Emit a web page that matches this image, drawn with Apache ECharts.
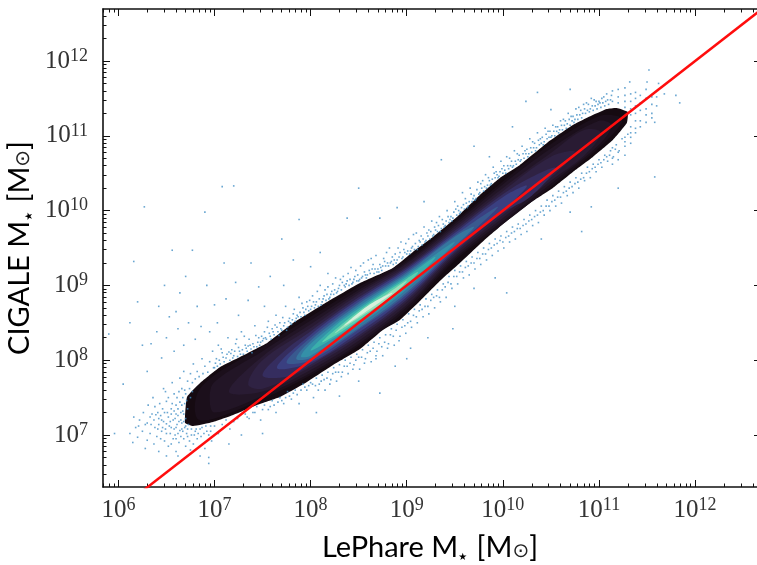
<!DOCTYPE html>
<html>
<head>
<meta charset="utf-8">
<style>html,body{margin:0;padding:0;background:#fff}#main{width:757px;height:565px}</style>
<script src="https://cdn.jsdelivr.net/npm/echarts@6/dist/echarts.min.js"></script>
</head>
<body>
<div id="main"></div>
<script>
// all positions below are log10 of the mass: [LePhare, CIGALE]
const xExtent = [5.84, 12.644]
const yExtent = [6.305, 12.695]
const xMajor = [6, 7, 8, 9, 10, 11, 12]
const yMajor = [7, 8, 9, 10, 11, 12]
const minorSteps = [2, 3, 4, 5, 6, 7, 8, 9]
const identityLine = [5, 13]

// 离散点
const haloLeft = [[6.12,7.02],[6.15,6.9],[6.18,7.1],[6.2,6.97],[6.22,7.2],[6.25,7.05],[6.28,6.82],[6.3,6.93],[6.3,7.16],[6.33,7.02],[6.35,7.28],[6.37,6.88],[6.38,7.1],[6.4,6.98],[6.42,7.22],[6.42,6.78],[6.45,7.05],[6.46,7.35],[6.48,6.92],[6.5,7.15],[6.5,7.45],[6.52,6.85],[6.54,7.02],[6.55,7.28],[6.57,6.95],[6.58,7.55],[6.6,7.1],[6.6,6.78],[6.62,7.35],[6.63,6.9],[6.65,7.2],[6.66,7.62],[6.67,7.05],[6.68,6.95],[6.69,7.42],[6.7,6.85],[6.16,7.24],[6.21,7.12],[6.26,7.3],[6.31,7.4],[6.34,7.14],[6.36,7.5],[6.39,7.27],[6.41,7.08],[6.43,7.42],[6.44,6.95],[6.47,7.18],[6.49,7.58],[6.51,7.3],[6.53,7.12],[6.56,7.42],[6.56,7.7],[6.59,7.22],[6.61,7.5],[6.62,7.02],[6.64,7.76],[6.65,6.98],[6.66,7.4],[6.68,7.28],[6.68,7.85],[6.7,7.12],[6.7,7.55],[6.72,6.98],[6.72,7.72],[6.72,7.08],[6.74,6.92],[6.74,7.62],[6.75,7.82],[6.76,7.0],[6.77,7.7],[6.78,6.88],[6.78,7.95],[6.8,7.75],[6.8,7.05],[6.82,6.95],[6.82,7.85],[6.84,7.78],[6.85,7.08],[6.86,6.98],[6.87,8.02],[6.88,7.82],[6.9,7.92],[6.9,6.82],[6.92,7.05],[6.93,7.84],[6.95,7.98],[6.96,7.12],[6.97,6.92],[6.98,8.12],[6.99,7.9],[6.47,7.62],[6.52,7.5],[6.58,7.32],[6.38,7.38],[6.44,7.26],[6.5,7.02],[6.54,7.18],[6.6,6.95],[6.63,7.18],[6.66,7.08],[6.46,7.1],[6.42,7.14],[6.55,6.88],[6.58,7.08],[6.62,7.26],[6.67,7.32],[6.7,7.22],[6.72,7.35],[6.75,7.5],[6.77,7.58],[6.5,6.72],[6.62,6.72],[6.75,6.8],[6.85,6.72],[6.94,6.62],[6.68,7.18],[6.65,7.3],[6.61,7.14],[6.64,7.06],[6.6,7.28],[6.57,7.2],[6.59,7.0],[6.66,7.16],[6.69,7.1],[6.64,7.44],[6.67,7.5],[6.69,7.6],[6.71,7.46],[6.63,7.58],[6.6,7.4],[6.55,7.1],[6.52,7.24],[6.48,7.3],[6.49,7.08],[6.45,7.2],[6.41,7.3],[6.37,7.2],[6.33,7.24],[6.28,7.14],[6.55,7.35],[6.71,7.02],[6.73,7.14],[6.76,7.08],[6.79,7.0],[6.81,7.08],[6.83,7.02],[6.87,7.1],[6.89,7.02],[6.91,7.12],[6.94,7.0],[6.96,7.05]]
const haloUpper = [[7.0,7.9],[7.02,8.02],[7.04,8.2],[7.06,7.95],[7.08,8.1],[7.1,7.98],[7.12,8.03],[7.14,8.3],[7.16,8.0],[7.18,8.14],[7.2,8.06],[7.22,8.22],[7.24,8.05],[7.26,8.12],[7.28,8.38],[7.3,8.08],[7.32,8.2],[7.34,8.12],[7.36,8.28],[7.38,8.15],[7.4,8.22],[7.42,8.46],[7.44,8.18],[7.46,8.3],[7.48,8.24],[7.5,8.26],[7.52,8.38],[7.54,8.28],[7.56,8.52],[7.58,8.32],[7.6,8.42],[7.62,8.34],[7.64,8.6],[7.66,8.38],[7.68,8.5],[7.7,8.4],[7.72,8.46],[7.74,8.72],[7.76,8.44],[7.78,8.56],[7.8,8.48],[7.82,8.62],[7.84,8.52],[7.86,8.6],[7.88,8.84],[7.9,8.58],[7.92,8.7],[7.94,8.6],[7.96,8.78],[7.98,8.66],[8.0,8.68],[8.02,8.86],[8.04,8.7],[8.06,8.78],[8.08,8.72],[8.1,9.0],[8.12,8.78],[8.14,8.86],[8.16,8.8],[8.18,8.98],[8.2,8.84],[8.22,8.92],[8.24,8.88],[8.26,9.1],[8.28,8.92],[8.3,9.0],[8.32,8.94],[8.34,9.12],[8.36,8.98],[8.38,9.06],[8.4,9.0],[8.42,9.24],[8.44,9.04],[8.46,9.12],[8.48,9.06],[8.5,9.06],[8.52,9.26],[8.54,9.12],[8.56,9.18],[8.58,9.1],[8.6,9.34],[8.62,9.16],[8.64,9.22],[8.66,9.16],[8.68,9.4],[8.7,9.22],[8.72,9.28],[8.74,9.2],[8.76,9.36],[8.78,9.26],[8.8,9.3],[8.82,9.5],[8.84,9.32],[8.86,9.28],[8.88,9.42],[8.9,9.34],[8.92,9.38],[8.94,9.58],[8.96,9.38],[8.98,9.44],[9.0,9.42],[9.02,9.62],[9.04,9.46],[9.06,9.52],[9.08,9.48],[9.1,9.7],[9.12,9.52],[9.14,9.58],[9.16,9.54],[9.18,9.78],[9.2,9.6],[9.22,9.66],[9.24,9.62],[9.26,9.86],[9.28,9.68],[9.3,9.74],[9.32,9.72],[9.34,9.92],[9.36,9.76],[9.38,9.82],[9.4,9.8],[9.42,10.0],[9.44,9.84],[9.46,9.92],[9.48,9.9],[9.5,10.12],[9.52,9.94],[9.54,10.0],[9.56,9.98],[9.58,10.24],[9.6,10.02],[9.62,10.1],[9.64,10.06],[9.66,10.3],[9.68,10.12],[9.7,10.2],[9.72,10.16],[9.74,10.38],[9.76,10.24],[9.78,10.3],[9.8,10.26],[9.82,10.48],[9.84,10.34],[9.86,10.4],[9.88,10.36],[9.9,10.58],[9.92,10.44],[9.94,10.48],[9.96,10.46],[9.98,10.66],[10.0,10.5],[10.02,10.54],[10.04,10.72],[10.06,10.56],[10.08,10.6],[10.1,10.58],[10.12,10.8],[10.14,10.62],[10.16,10.68],[10.18,10.66],[10.2,10.86],[10.22,10.7],[10.24,10.76],[10.26,10.72],[10.28,10.96],[10.3,10.78],[10.32,10.84],[10.34,10.8],[10.36,11.04],[10.38,10.88],[10.4,10.9],[10.42,10.88],[10.44,11.1],[10.46,10.96],[10.48,10.98],[10.5,10.98],[10.52,11.14],[10.54,11.0],[10.56,11.06],[10.58,11.04],[10.6,11.2],[10.62,11.08],[10.64,11.14],[10.66,11.1],[10.68,11.3],[10.7,11.14],[10.72,11.2],[10.74,11.18],[10.76,11.36],[10.78,11.22],[10.8,11.28],[10.82,11.24],[10.84,11.42],[10.86,11.3],[10.88,11.34],[10.9,11.32],[10.92,11.5],[10.94,11.34],[10.96,11.4],[10.98,11.36],[11.0,11.46],[11.02,11.38],[11.04,11.44],[11.06,11.4],[11.08,11.56],[11.1,11.42],[11.12,11.48]]
const haloUpper2 = [[7.01,7.96],[7.05,8.0],[7.09,8.04],[7.13,8.08],[7.17,8.09],[7.21,8.12],[7.25,8.17],[7.29,8.14],[7.33,8.16],[7.37,8.2],[7.41,8.18],[7.45,8.24],[7.49,8.32],[7.53,8.3],[7.57,8.36],[7.61,8.38],[7.65,8.44],[7.69,8.42],[7.73,8.5],[7.77,8.52],[7.81,8.54],[7.85,8.56],[7.89,8.64],[7.93,8.64],[7.97,8.72],[8.01,8.72],[8.05,8.74],[8.09,8.82],[8.13,8.82],[8.17,8.88],[8.21,8.88],[8.25,8.94],[8.29,8.96],[8.33,9.04],[8.37,9.02],[8.41,9.08],[8.45,9.08],[8.49,9.14],[8.53,9.1],[8.57,9.14],[8.61,9.2],[8.65,9.28],[8.69,9.18],[8.73,9.24],[8.77,9.32],[8.81,9.26],[8.85,9.38],[8.89,9.3],[8.93,9.44],[8.97,9.48],[9.01,9.46],[9.05,9.5],[9.09,9.56],[9.13,9.6],[9.17,9.62],[9.21,9.7],[9.25,9.72],[9.29,9.78],[9.33,9.8],[9.37,9.88],[9.41,9.86],[9.45,9.88],[9.49,9.98],[9.53,10.06],[9.57,10.04],[9.61,10.16],[9.65,10.12],[9.69,10.16],[9.73,10.28],[9.77,10.36],[9.81,10.32],[9.85,10.44],[9.89,10.42],[9.93,10.52],[9.97,10.52],[10.01,10.6],[10.05,10.6],[10.09,10.66],[10.13,10.66],[10.17,10.74],[10.21,10.76],[10.25,10.82],[10.29,10.84],[10.33,10.9],[10.37,10.94],[10.41,10.98],[10.45,11.02],[10.49,11.06],[10.53,11.06],[10.57,11.12],[10.61,11.14],[10.65,11.2],[10.69,11.22],[10.73,11.26],[10.77,11.28],[10.81,11.34],[10.85,11.36],[10.89,11.42],[10.93,11.4],[10.97,11.46],[11.01,11.44],[11.05,11.52],[11.09,11.48],[11.13,11.54]]
const haloUpper3 = [[7.03,7.92],[7.07,8.15],[7.15,8.11],[7.19,8.03],[7.23,8.28],[7.27,8.08],[7.31,8.32],[7.35,8.19],[7.39,8.1],[7.43,8.33],[7.47,8.2],[7.51,8.29],[7.55,8.44],[7.59,8.28],[7.63,8.47],[7.67,8.33],[7.71,8.57],[7.75,8.4],[7.79,8.5],[7.83,8.68],[7.87,8.58],[7.91,8.76],[7.95,8.68],[7.99,8.8],[8.03,8.78],[8.07,8.92],[8.11,8.74],[8.15,8.94],[8.19,8.82],[8.23,9.02],[8.27,8.9],[8.31,9.08],[8.35,9.0],[8.39,9.16],[8.43,9.02],[8.47,9.2],[8.51,9.08],[8.55,9.3],[8.59,9.14],[8.63,9.36],[8.67,9.22],[8.71,9.18],[8.75,9.26],[8.79,9.44],[8.83,9.3],[8.87,9.34],[8.91,9.5],[8.95,9.36],[8.99,9.56],[9.03,9.42],[9.07,9.68],[9.11,9.48],[9.15,9.66],[9.19,9.58],[9.23,9.74],[9.27,9.66],[9.31,9.84],[9.35,9.72],[9.39,9.78],[9.43,9.92],[9.47,9.86],[9.51,10.02],[9.55,9.96],[9.59,10.08],[9.63,10.04],[9.67,10.22],[9.71,10.14],[9.75,10.22],[9.79,10.4],[9.83,10.3],[9.87,10.34],[9.91,10.5],[9.95,10.44],[9.99,10.56],[10.03,10.5],[10.07,10.7],[10.11,10.6],[10.15,10.76],[10.19,10.68],[10.23,10.8],[10.27,10.76],[10.31,10.92],[10.35,10.84],[10.39,10.96],[10.43,10.92],[10.47,11.06],[10.51,11.0],[10.55,11.12],[10.59,11.08],[10.63,11.22],[10.67,11.16],[10.71,11.26],[10.75,11.22],[10.79,11.38],[10.83,11.3],[10.87,11.44],[10.91,11.36],[10.95,11.48],[10.99,11.42],[11.03,11.5],[11.07,11.46]]
const haloLower = [[7.0,7.12],[7.04,7.02],[7.08,7.14],[7.12,7.2],[7.16,7.08],[7.2,7.18],[7.24,7.22],[7.28,7.0],[7.32,7.28],[7.36,7.22],[7.4,7.3],[7.44,7.38],[7.48,7.2],[7.52,7.4],[7.56,7.34],[7.6,7.46],[7.64,7.3],[7.68,7.5],[7.72,7.42],[7.76,7.58],[7.8,7.48],[7.84,7.6],[7.88,7.42],[7.92,7.68],[7.96,7.6],[8.0,7.7],[8.03,7.5],[8.06,7.76],[8.09,7.68],[8.12,7.8],[8.15,7.6],[8.18,7.84],[8.21,7.74],[8.24,7.9],[8.27,7.72],[8.3,7.94],[8.33,7.84],[8.36,8.0],[8.39,7.82],[8.42,8.04],[8.45,7.94],[8.48,8.08],[8.51,7.88],[8.54,8.14],[8.57,8.02],[8.6,8.2],[8.63,7.98],[8.66,8.24],[8.69,8.12],[8.72,8.3],[8.75,8.06],[8.78,8.34],[8.81,8.22],[8.84,8.42],[8.87,8.2],[8.9,8.48],[8.93,8.32],[8.96,8.54],[8.99,8.36],[9.02,8.62],[9.05,8.44],[9.08,8.68],[9.11,8.5],[9.14,8.74],[9.17,8.58],[9.2,8.82],[9.23,8.62],[9.26,8.88],[9.29,8.7],[9.32,8.94],[9.35,8.78],[9.38,9.02],[9.41,8.84],[9.44,9.12],[9.47,8.96],[9.5,9.2],[9.53,9.02],[9.56,9.26],[9.59,9.1],[9.62,9.32],[9.65,9.14],[9.68,9.38],[9.71,9.22],[9.74,9.44],[9.77,9.28],[9.8,9.5],[9.83,9.34],[9.86,9.56],[9.89,9.4],[9.92,9.62],[9.95,9.46],[9.98,9.66],[10.01,9.5],[10.04,9.72],[10.07,9.58],[10.1,9.78],[10.13,9.62],[10.16,9.82],[10.19,9.68],[10.22,9.88],[10.25,9.72],[10.28,9.94],[10.31,9.8],[10.34,10.0],[10.37,9.84],[10.4,10.06],[10.43,9.94],[10.46,10.14],[10.49,10.0],[10.52,10.2],[10.55,10.06],[10.58,10.26],[10.61,10.1],[10.64,10.32],[10.67,10.2],[10.7,10.38],[10.73,10.24],[10.76,10.44],[10.79,10.3],[10.82,10.5],[10.85,10.4],[10.88,10.58],[10.91,10.44],[10.94,10.62],[10.97,10.52],[11.0,10.68],[11.03,10.58],[11.06,10.74],[11.09,10.66],[11.12,10.8],[11.15,10.72],[11.18,10.88],[11.21,10.8],[11.24,10.96],[11.27,10.92],[11.3,11.02]]
const haloLower2 = [[7.34,7.24],[7.42,7.3],[7.5,7.34],[7.58,7.38],[7.66,7.44],[7.74,7.5],[7.82,7.56],[7.9,7.6],[7.98,7.66],[8.05,7.66],[8.11,7.72],[8.17,7.76],[8.23,7.82],[8.29,7.84],[8.35,7.92],[8.41,7.96],[8.47,8.0],[8.53,8.04],[8.59,8.1],[8.65,8.16],[8.71,8.22],[8.77,8.24],[8.83,8.34],[8.89,8.4],[8.95,8.44],[9.01,8.5],[9.07,8.6],[9.13,8.66],[9.19,8.72],[9.25,8.8],[9.31,8.86],[9.37,8.94],[9.43,9.04],[9.49,9.12],[9.55,9.18],[9.61,9.24],[9.67,9.3],[9.73,9.36],[9.79,9.42],[9.85,9.48],[9.91,9.54],[9.97,9.6],[10.03,9.64],[10.09,9.7],[10.15,9.76],[10.21,9.8],[10.27,9.86],[10.33,9.92],[10.39,9.98],[10.45,10.06],[10.51,10.12],[10.57,10.18],[10.63,10.24],[10.69,10.3],[10.75,10.36],[10.81,10.42],[10.87,10.5],[10.93,10.56],[10.99,10.62],[11.05,10.68],[11.11,10.74],[11.17,10.82]]
const haloLower3 = [[7.62,7.4],[7.7,7.46],[7.78,7.52],[7.86,7.54],[7.94,7.64],[8.02,7.68],[8.08,7.6],[8.14,7.74],[8.2,7.68],[8.26,7.84],[8.32,7.78],[8.38,7.92],[8.44,7.88],[8.5,8.04],[8.56,7.96],[8.62,8.12],[8.68,8.06],[8.74,8.18],[8.8,8.16],[8.86,8.32],[8.92,8.26],[8.98,8.46],[9.04,8.52],[9.1,8.58],[9.16,8.68],[9.22,8.72],[9.28,8.84],[9.34,8.84],[9.4,8.98],[9.46,9.02],[9.52,9.12],[9.58,9.18],[9.64,9.26],[9.7,9.3],[9.76,9.36],[9.82,9.42],[9.88,9.5],[9.94,9.56],[10.0,9.58],[10.06,9.66],[10.12,9.72],[10.18,9.76],[10.24,9.82],[10.3,9.88],[10.36,9.94],[10.42,10.0],[10.48,10.06],[10.54,10.14],[10.6,10.18],[10.66,10.26],[10.72,10.32],[10.78,10.38],[10.84,10.44],[10.9,10.52],[10.96,10.58],[11.02,10.64],[11.08,10.72]]
const haloTip = [[11.14,11.46],[11.14,11.6],[11.14,10.84],[11.14,10.7],[11.14,10.62],[11.2,11.44],[11.2,11.52],[11.2,11.62],[11.2,10.78],[11.2,10.68],[11.27,11.38],[11.27,11.46],[11.27,11.54],[11.27,11.64],[11.27,10.98],[11.27,10.86],[11.27,10.74],[11.33,11.28],[11.33,11.36],[11.33,11.46],[11.33,11.56],[11.33,11.12],[11.33,11.04],[11.33,10.98],[11.33,10.9],[11.38,11.3],[11.38,11.4],[11.38,11.5],[11.38,11.58],[11.38,11.2],[11.38,11.1],[11.38,11.04],[11.43,11.34],[11.43,11.44],[11.43,11.54],[11.43,11.2],[11.43,11.12],[11.49,11.28],[11.49,11.36],[11.49,11.5],[11.49,11.62],[11.49,11.18],[11.55,11.3],[11.55,11.42],[11.55,11.52],[11.55,11.24],[11.6,11.4],[11.6,11.52],[11.62,11.7],[11.5,11.72],[11.52,11.88],[11.32,11.72],[11.58,11.18],[11.68,11.56],[11.8,11.54],[11.84,11.44]]
const outliers = [[5.9,8.35],[5.96,7.02],[6.05,7.68],[6.27,10.05],[6.12,8.5],[6.2,8.78],[6.16,9.32],[6.25,8.2],[6.3,7.85],[6.34,8.22],[6.4,8.38],[6.42,8.72],[6.45,8.03],[6.48,9.0],[6.5,8.3],[6.53,8.58],[6.56,9.47],[6.58,8.12],[6.6,8.65],[6.62,8.42],[6.64,8.9],[6.68,8.2],[6.7,9.12],[6.73,8.5],[6.77,9.47],[6.8,8.28],[6.82,8.72],[6.86,8.45],[6.9,9.98],[6.92,9.0],[6.95,8.38],[7.0,8.74],[7.03,8.5],[7.08,10.32],[7.1,9.3],[7.12,8.82],[7.2,10.33],[7.22,9.04],[7.25,8.6],[7.35,8.8],[7.38,9.3],[7.46,8.98],[7.52,8.72],[7.58,9.12],[7.7,9.62],[7.72,9.0],[7.82,9.34],[7.88,9.88],[8.0,9.25],[8.1,9.44],[8.18,9.16],[8.38,9.9],[8.5,10.3],[8.72,9.9],[8.9,10.04],[9.18,10.12],[9.36,10.68],[9.7,10.86],[9.86,10.72],[10.1,11.12],[10.24,11.46],[10.5,11.35],[10.7,11.62],[10.36,11.58],[6.94,6.7],[7.15,6.88],[7.5,7.02],[8.06,7.3],[8.3,7.52],[8.5,7.72],[8.72,7.56],[8.88,7.92],[9.0,8.02],[9.22,8.3],[9.5,8.72],[9.7,8.96],[9.92,9.1],[10.04,8.9],[10.4,9.62],[10.7,9.98],[10.82,9.72],[10.92,10.05],[8.68,8.02],[9.04,8.16],[9.48,8.42],[11.58,10.45],[11.2,10.3]]
const scatterPoints = haloLeft.concat(haloUpper, haloUpper2, haloUpper3, haloLower, haloLower2, haloLower3, haloTip, outliers)

// 密度等值面，由外到内
const contour0 = [[6.694,7.16],[6.714,7.508],[6.85,7.695],[7.058,7.909],[7.266,8.043],[7.547,8.23],[7.817,8.497],[8.171,8.778],[8.514,9.032],[8.857,9.233],[9.064,9.447],[9.272,9.647],[9.522,9.914],[9.761,10.209],[9.969,10.436],[10.177,10.61],[10.458,10.904],[10.728,11.144],[10.936,11.278],[11.081,11.358],[11.185,11.372],[11.3,11.318],[11.29,11.171],[11.144,10.944],[10.936,10.717],[10.728,10.516],[10.52,10.302],[10.312,10.127],[10.104,9.928],[9.834,9.636],[9.553,9.299],[9.345,9.059],[9.137,8.791],[8.929,8.537],[8.752,8.404],[8.514,8.15],[8.233,7.936],[7.962,7.709],[7.681,7.508],[7.442,7.401],[7.193,7.267],[6.985,7.174],[6.777,7.12]]
const contour1 = [[6.82,7.55],[7,7.8],[7.5,8.18],[8,8.58],[8.5,8.98],[9,9.34],[9.5,9.85],[10,10.39],[10.5,10.89],[11,11.26],[11.2,11.26],[11.24,11.18],[11,10.84],[10.5,10.32],[10,9.82],[9.5,9.33],[9,8.67],[8.5,8.19],[8,7.8],[7.5,7.48],[7,7.22],[6.82,7.22]]
const contour2 = [[6.95,7.5],[7,7.71],[7.5,8.12],[8,8.53],[8.5,8.94],[9,9.31],[9.5,9.82],[10,10.35],[10.5,10.83],[11,11.2],[11.13,11.14],[11,10.88],[10.5,10.36],[10,9.86],[9.5,9.36],[9,8.71],[8.5,8.22],[8,7.83],[7.5,7.525],[7,7.3]]
const contour3 = [[7.15,7.58],[7.5,8.05],[8,8.48],[8.5,8.91],[9,9.29],[9.5,9.79],[10,10.3],[10.5,10.77],[10.85,11.08],[11.02,11.04],[10.85,10.74],[10.5,10.4],[10,9.9],[9.5,9.39],[9,8.74],[8.5,8.26],[8,7.87],[7.5,7.58]]
const contour4 = [[7.35,7.68],[7.5,8],[8,8.43],[8.5,8.88],[9,9.26],[9.5,9.76],[10,10.26],[10.5,10.72],[10.75,10.78],[10.5,10.44],[10,9.94],[9.5,9.42],[9,8.78],[8.5,8.3],[8,7.91],[7.5,7.62]]
const contour5 = [[7.5,7.8],[7.75,8.15],[8,8.385],[8.5,8.84],[9,9.24],[9.5,9.73],[10,10.22],[10.3,10.45],[10.55,10.57],[10.3,10.2],[10,9.97],[9.5,9.445],[9,8.81],[8.5,8.33],[8,7.94],[7.75,7.78]]
const contour6 = [[7.65,7.9],[8,8.34],[8.5,8.81],[9,9.215],[9.5,9.7],[10,10.18],[10.25,10.33],[10,10],[9.5,9.47],[9,8.845],[8.5,8.37],[8,7.97]]
const contour7 = [[7.75,7.97],[8,8.3],[8.5,8.78],[9,9.19],[9.5,9.67],[9.95,10.05],[9.5,9.5],[9,8.88],[8.5,8.41],[8,8]]
const contour8 = [[7.85,8.02],[8,8.26],[8.5,8.75],[9,9.165],[9.5,9.65],[9.7,9.78],[9.5,9.52],[9,8.91],[8.5,8.43],[8,8.03]]
const contour9 = [[7.9,8.05],[8,8.22],[8.5,8.72],[9,9.14],[9.5,9.58],[9,8.95],[8.5,8.47],[8,8.06]]
const contour10 = [[8,8.13],[8.25,8.45],[8.5,8.69],[9,9.115],[9.3,9.38],[9,8.98],[8.5,8.5],[8.25,8.3]]
const contour11 = [[8.12,8.24],[8.5,8.66],[9,9.09],[9.12,9.18],[9,9.01],[8.5,8.53]]
const contour12 = [[8.25,8.36],[8.5,8.635],[8.8,8.89],[9,9.06],[8.8,8.81],[8.5,8.565]]
const contour13 = [[8.35,8.46],[8.6,8.73],[8.85,8.9],[8.6,8.67]]
const contours = [contour0,contour1,contour2,contour3,contour4,contour5,contour6,contour7,contour8,contour9,contour10,contour11,contour12,contour13]
const contourColors = ['#150a11','#1b0f1b','#221526','#291b33','#2f2243','#352d5f','#3a3f80','#39598f','#36769f','#3490a8','#3aafac','#5ccfae','#9ce0bb','#d6f1dc']

const pow10 = v => Math.pow(10, v)
const minorOf = majors => {
  const out = []
  for (let e = Math.min(...majors) - 1; e <= Math.max(...majors) + 1; e++) {
    minorSteps.forEach(s => out.push(s * pow10(e)))
  }
  return out
}

const serifFont = '"Liberation Serif","DejaVu Serif",serif'
const sansFont = 'Lato,"Noto Sans","DejaVu Sans",sans-serif'
const tickRich = {
  b: { fontFamily: serifFont, fontSize: 25, color: '#333' },
  e: { fontFamily: serifFont, fontSize: 18, color: '#333', verticalAlign: 'top', padding: [0, 0, 10, 0] }
}
const labelFmt = v => `{b|10}{e|${Math.round(Math.log10(v))}}`

function makeAxis(extent, position, values, len, showLabel, showLine, margin) {
  return {
    type: 'log',
    position: position,
    min: pow10(extent[0]),
    max: pow10(extent[1]),
    splitLine: { show: false },
    minorTick: { show: false },
    axisLine: { show: showLine, lineStyle: { color: '#111', width: 1.6 } },
    axisTick: { show: true, inside: true, length: len, customValues: values, lineStyle: { color: '#111', width: 1 } },
    axisLabel: {
      show: showLabel,
      customValues: values,
      margin: margin,
      formatter: labelFmt,
      rich: tickRich,
      showMinLabel: true,
      showMaxLabel: true
    }
  }
}

const nameRich = {
  a: { fontFamily: sansFont, fontSize: 29, color: '#000' },
  s: { fontFamily: '"DejaVu Sans"', fontSize: 10, color: '#000', verticalAlign: 'bottom', padding: [8, 2, 0, 0] },
  o: { fontFamily: '"DejaVu Sans"', fontSize: 20, color: '#222', verticalAlign: 'bottom', padding: [8, 0, 0, 0] }
}

const xMajorVals = xMajor.map(pow10)
const yMajorVals = yMajor.map(pow10)
const xMinorVals = minorOf(xMajor)
const yMinorVals = minorOf(yMajor)

const xBottom = makeAxis(xExtent, 'bottom', xMajorVals, 7, true, true, 9)
xBottom.name = '{a|LePhare M}{s|★}{a| [M}{o|⊙}{a|]}'
xBottom.nameLocation = 'middle'
xBottom.nameGap = 46
xBottom.nameTextStyle = { rich: nameRich, align: 'center' }

const yLeft = makeAxis(yExtent, 'left', yMajorVals, 7, true, true, 15)
yLeft.name = '{a|CIGALE M}{s|★}{a| [M}{o|⊙}{a|]}'
yLeft.nameLocation = 'middle'
yLeft.nameGap = 61
yLeft.nameRotate = 90
yLeft.nameTextStyle = { rich: nameRich, align: 'center' }

const option = {
  animation: false,
  backgroundColor: '#fff',
  grid: { left: 103, top: 9, right: 0, bottom: 78, outerBoundsMode: 'none' },
  xAxis: [
    xBottom,
    makeAxis(xExtent, 'bottom', xMinorVals, 3.5, false, false, 0),
    makeAxis(xExtent, 'top', xMajorVals, 7, false, true, 0),
    makeAxis(xExtent, 'top', xMinorVals, 3.5, false, false, 0)
  ],
  yAxis: [
    yLeft,
    makeAxis(yExtent, 'left', yMinorVals, 3.5, false, false, 0),
    makeAxis(yExtent, 'right', yMajorVals, 3, false, false, 0)
  ],
  series: [
    {
      type: 'scatter',
      silent: true,
      symbol: 'rect',
      symbolSize: 1.6,
      itemStyle: { color: '#4490c6' },
      data: scatterPoints.map(p => [pow10(p[0]), pow10(p[1])])
    },
    {
      type: 'custom',
      silent: true,
      clip: true,
      coordinateSystem: 'cartesian2d',
      data: contours.map((c, i) => [pow10(c[0][0]), pow10(c[0][1]), i]),
      encode: { x: 0, y: 1 },
      renderItem: function (params, api) {
        const c = contours[params.dataIndex]
        return {
          type: 'polygon',
          shape: { points: c.map(p => api.coord([pow10(p[0]), pow10(p[1])])), smooth: params.dataIndex === 0 ? 0.12 : 0.35 },
          style: { fill: contourColors[params.dataIndex] }
        }
      }
    },
    {
      type: 'line',
      silent: true,
      symbol: 'none',
      clip: true,
      lineStyle: { color: '#ff0d0d', width: 2.5 },
      data: identityLine.map(v => [pow10(v), pow10(v)]),
      z: 5
    }
  ]
}

const myChart = echarts.init(document.getElementById('main'))
myChart.setOption(option)
</script>
</body>
</html>
